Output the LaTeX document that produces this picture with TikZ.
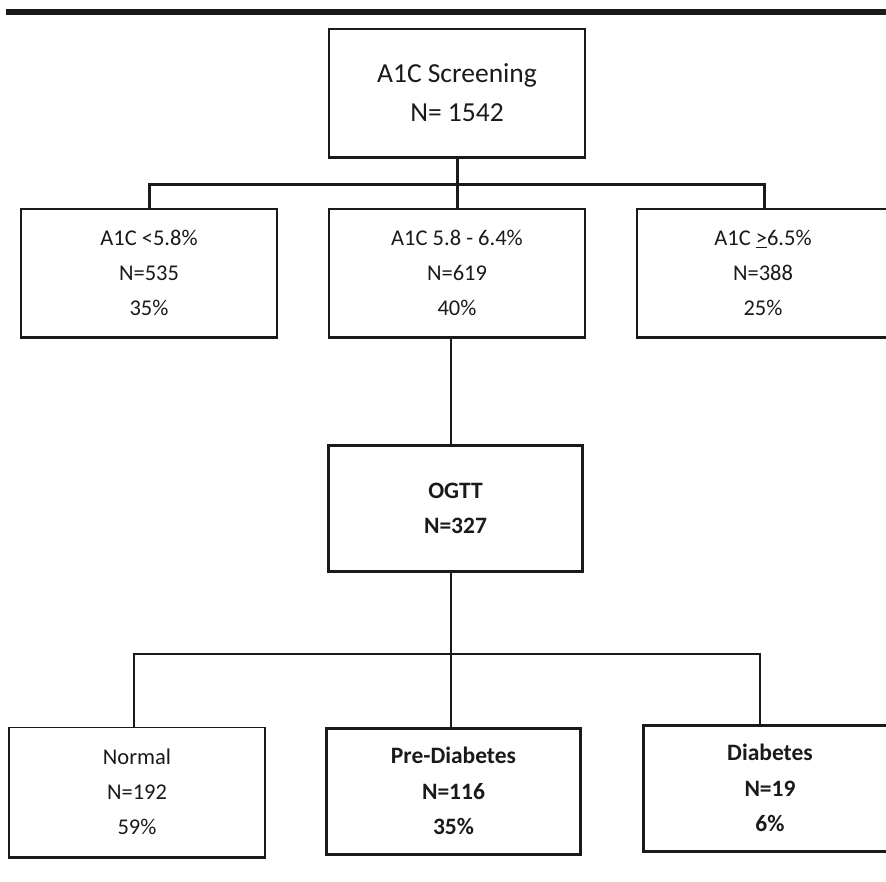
\documentclass[tikz,border=0pt]{standalone}
\usepackage{fontspec}
\setmainfont{Carlito}
\definecolor{ink}{HTML}{1A1A1A}
\begin{document}
\begin{tikzpicture}[x=1pt,y=-1pt,
  box/.style={draw=ink,line width=1.3pt,rectangle,inner sep=0pt,align=center,text=ink},
  thinbox/.style={box,minimum width=256pt,minimum height=128pt,font=\fontsize{22.5}{35}\selectfont},
  boldbox/.style={box,line width=3pt,minimum width=254pt,minimum height=126pt,font=\bfseries\fontsize{23.5}{35.5}\selectfont},
  heavy/.style={draw=ink,line width=3pt},
  light/.style={draw=ink,line width=1.4pt},
  edge/.style={draw=ink,line width=3.2pt}]
\useasboundingbox (0,0) rectangle (886,881);
\clip (0,0) rectangle (886,881);
% top rule
\fill[ink] (6,9) rectangle (886,15);
% nodes
\node[box,minimum width=256pt,minimum height=128pt,font=\fontsize{27.5}{39}\selectfont] (scr) at (457,93) {A1C Screening\\N= 1542};
\node[thinbox] (low) at (149,273) {A1C <5.8\%\\N=535\\35\%};
\node[thinbox] (mid) at (457,273) {A1C 5.8 - 6.4\%\\N=619\\40\%};
\node[thinbox,minimum width=252pt] (high) at (763,273) {A1C \underline{>}6.5\%\\N=388\\25\%};
\node[boldbox,font=\bfseries\fontsize{23.5}{35}\selectfont] (ogtt) at (455.5,508.5) {OGTT\\N=327};
\node[thinbox,minimum height=129pt] (normal) at (137,792) {Normal\\N=192\\59\%};
\node[boldbox] (pre) at (453.5,791) {Pre-Diabetes\\N=116\\35\%};
\node[boldbox] (diab) at (770,788) {Diabetes\\N=19\\6\%};
% heavier lower edges of the light boxes
\foreach \n in {scr,low,mid,high,normal}{
  \draw[edge] (\n.south west) -- (\n.south east);
}
% junctions
\coordinate (j1) at (457,184);
\coordinate (j2) at (451,654);
% connectors, upper tier
\draw[heavy] (scr.south) -- (j1);
\draw[heavy] (j1) -- (mid.north);
\draw[heavy] (low.north) -- (low.north |- j1) -- ([xshift=1pt]high.north |- j1) -- ([xshift=1pt]high.north);
% middle
\draw[light] ([xshift=-6pt]mid.south) -- ([xshift=-4.5pt]ogtt.north);
% lower tier
\draw[light] ([xshift=-4.5pt]ogtt.south) -- (j2);
\draw[light] (j2) -- ([xshift=-2.5pt]pre.north);
\draw[light] ([xshift=-3pt]normal.north) -- ([xshift=-3pt]normal.north |- j2) -- ([xshift=-10pt]diab.north |- j2) -- ([xshift=-10pt]diab.north);
\end{tikzpicture}
\end{document}
